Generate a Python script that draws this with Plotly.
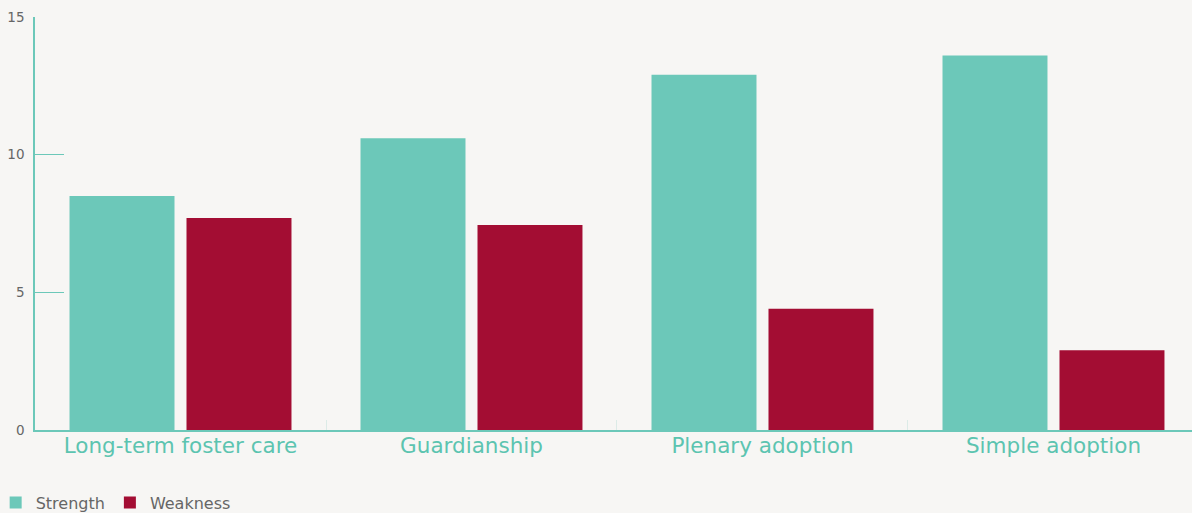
import plotly.graph_objects as go

categories = ["Long-term foster care", "Guardianship", "Plenary adoption", "Simple adoption"]
strength = [8.5, 10.6, 12.9, 13.6]
weakness = [7.7, 7.45, 4.4, 2.9]
y_ticks = [0, 5, 10, 15]

BG = "#F7F6F4"
TEAL = "#6CC8B9"
RED = "#A30D33"
FONT = "DejaVu Sans"

fig = go.Figure()
fig.add_trace(go.Bar(name="Strength", x=categories, y=strength, marker_color=TEAL, marker_line_width=0))
fig.add_trace(go.Bar(name="Weakness", x=categories, y=weakness, marker_color=RED, marker_line_width=0))

fig.update_layout(
    width=1192, height=513,
    paper_bgcolor=BG, plot_bgcolor=BG,
    margin=dict(l=35, r=0, t=17, b=83, autoexpand=False),
    barmode="group", bargap=0.196, bargroupgap=0.1026,
    font=dict(family=FONT, color="#666666"),
    showlegend=True,
    legend=dict(orientation="h", x=-0.034, y=-0.176, xanchor="left",
                yanchor="middle", font=dict(size=16, color="#666666"), bgcolor="rgba(0,0,0,0)",
                tracegroupgap=0),
)
fig.update_xaxes(
    range=[-0.5, 3.476],
    showline=True, linecolor=TEAL, linewidth=1.5,
    ticks="inside", tickson="boundaries", ticklen=10, tickcolor="#dcebe7",
    tickfont=dict(size=21.5, color="#5CC4B0", family=FONT),
    showgrid=False, zeroline=False, ticklabelstandoff=-5,
)
fig.update_yaxes(
    range=[0, 15], tickvals=y_ticks, ticktext=[str(v) for v in y_ticks],
    showline=True, linecolor=TEAL, linewidth=1.5,
    ticks="inside", ticklen=29, tickcolor=TEAL, tickwidth=1,
    tickfont=dict(size=13.5, color="#666666", family=FONT),
    showgrid=False, zeroline=False, ticklabelstandoff=6,
)

fig.write_html("out.html", config={"displayModeBar": False},
               post_script="document.body.style.margin='0';")
